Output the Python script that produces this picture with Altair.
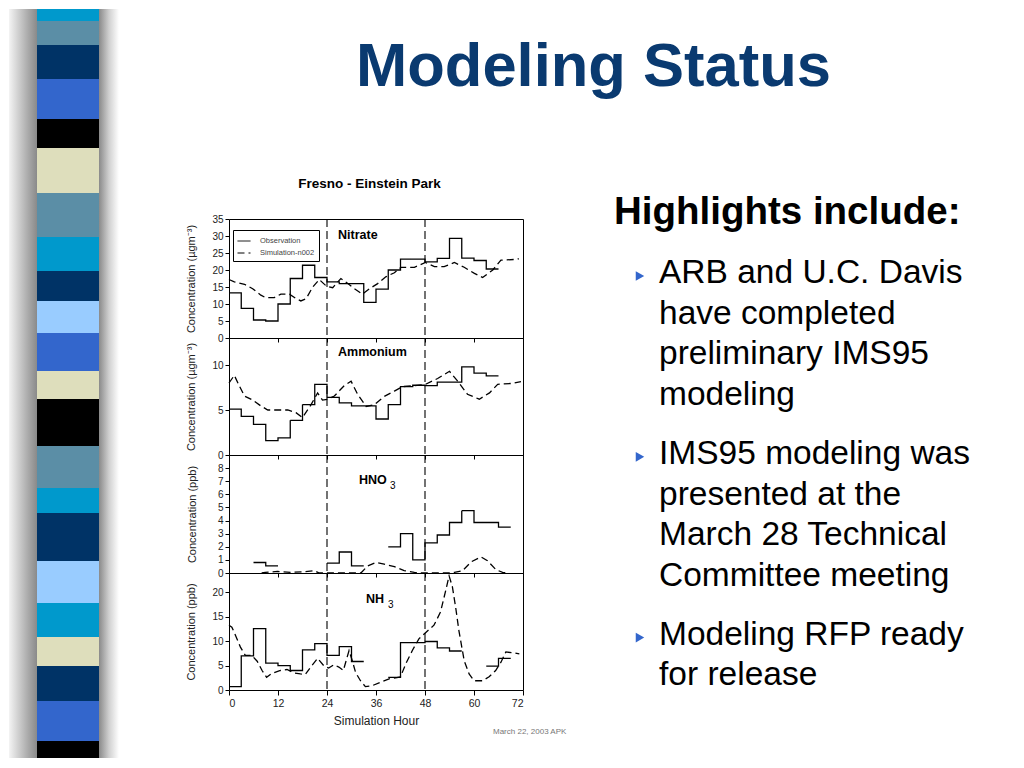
import altair as alt
import pandas as pd

FONT = "Liberation Sans"

# ---------------- data ----------------
# observations: 3-hour block averages starting at 0, 3, 6, ... 69 (None = no data)
block_start = list(range(0, 72, 3))
nit_obs = [13.3, 8.7, 5.3, 5.0, 10.0, 17.5, 21.4, 17.8, 16.5, 16.0, 16.0, 10.5,
           14.4, 20.0, 23.2, 23.2, 22.4, 23.4, 29.3, 23.5, 22.8, 20.3, None, None]
amm_obs = [5.1, 4.3, 3.4, 1.6, 1.9, 3.85, 5.6, 7.85, 6.4, 5.8, 5.45, 5.45,
           4.0, 5.6, 7.6, 7.75, 7.7, 8.1, 8.1, 9.8, 9.1, 8.8, None, None]
hno3_obs = [None, None, 0.8, 0.55, None, None, None, None, 0.75, 1.6, 0.55, None,
            None, 2.0, 3.0, 1.0, 2.3, 2.9, 3.85, 4.75, 3.85, 3.85, 3.5, None]
nh3_obs = [0.7, 7.0, 12.6, 5.5, 5.0, 4.0, 8.25, 9.5, 7.1, 8.9, 5.85, None,
           None, 2.6, 9.7, 9.7, 9.95, 8.66, 8.0, None, None, 4.9, 6.5, None]

# simulation (n002)
nit_sim_h = [0, 1.3, 3.8, 5.8, 7.8, 8.9, 11.1, 12.7, 14.8, 16.4, 17.6, 18.9, 20.5,
             22.1, 23.9, 25.4, 27.4, 29.1, 30.7, 32.7, 34.4, 36.4, 38.4, 40.5, 42.1,
             45.4, 48.1, 50.3, 52.7, 55.2, 57.6, 60.1, 62.1, 64.6, 66.6, 69.9, 71.0]
nit_sim_v = [17.2, 16.5, 15.8, 14.5, 12.6, 11.9, 11.9, 12.9, 12.9, 11.6, 10.9, 11.6, 15.0,
             17.2, 15.2, 14.8, 17.5, 16.0, 14.5, 12.9, 14.5, 16.0, 18.0, 19.2, 20.8,
             20.8, 22.2, 21.0, 21.0, 22.2, 20.8, 19.0, 17.8, 20.0, 22.9, 23.1, 23.3]

amm_sim_h = [0, 1.3, 2.5, 3.8, 5.8, 7.8, 9.5, 14.4, 16.4, 18.0, 20.1, 21.7, 22.9,
             24.2, 25.8, 28.2, 29.9, 31.5, 33.6, 35.6, 38.0, 40.5, 42.5, 45.4, 48.1,
             51.1, 54.0, 56.0, 58.4, 61.3, 63.8, 65.8, 69.1, 71.5]
amm_sim_v = [8.0, 8.85, 7.7, 6.55, 6.1, 5.45, 5.0, 5.0, 4.7, 4.15, 5.6, 6.9, 6.1,
             6.2, 6.55, 7.7, 8.2, 6.75, 5.4, 5.6, 6.5, 7.1, 7.6, 7.7, 7.85,
             8.5, 9.3, 8.2, 6.75, 6.2, 6.9, 7.85, 7.95, 8.15]

hno3_sim_h = [8.0, 8.9, 11.9, 15.2, 18.4, 20.9, 22.1, 32.3, 34.0, 36.0, 38.0, 40.5,
              42.9, 45.4, 46.6, 53.6, 55.2, 57.2, 59.3, 61.7, 63.3, 65.4, 67.0, 68.2]
hno3_sim_v = [0.0, 0.05, 0.12, 0.05, 0.1, 0.18, 0.0, 0.0, 0.55, 0.8, 0.68, 0.48,
              0.18, 0.05, 0.0, 0.0, 0.05, 0.18, 0.85, 1.23, 0.93, 0.25, 0.05, 0.0]

nh3_sim_h = [0, 0.7, 1.6, 2.8, 4.0, 5.6, 6.9, 8.1, 9.2, 10.5, 12.6, 14.2, 15.9, 17.5,
             18.7, 20.0, 21.7, 23.2, 24.4, 25.7, 26.9, 28.0, 29.4, 30.2, 31.0, 32.2,
             33.4, 35.1, 37.1, 39.2, 40.8, 42.0, 43.3, 44.9, 46.5, 48.6, 50.2, 51.8,
             53.1, 53.9, 54.7, 55.5, 56.3, 57.6, 58.8, 60.0, 62.1, 63.7, 65.3, 66.6,
             67.8, 69.8, 71.1]
nh3_sim_v = [13.3, 12.9, 11.2, 8.8, 7.1, 7.1, 5.9, 4.0, 2.6, 3.4, 4.0, 4.2, 3.5, 3.3,
             3.2, 4.7, 6.5, 5.0, 4.5, 5.2, 4.7, 4.0, 8.1, 6.0, 3.6, 1.9,
             0.7, 0.9, 1.6, 2.3, 2.5, 2.7, 5.4, 8.1, 10.5, 12.1, 13.3, 16.0,
             20.5, 23.4, 21.2, 17.0, 12.2, 6.0, 3.3, 1.9, 1.9, 2.7, 4.0, 5.7,
             7.8, 7.6, 7.4]

SERIES = ["Observation", "Simulation-n002"]
day_marks = [24, 48]
x_ticks = [0, 12, 24, 36, 48, 60, 72]

slide_title = "Modeling Status"
chart_title = "Fresno - Einstein Park"
heading = "Highlights include:"
bullets = [
    ["ARB and U.C. Davis", "have completed", "preliminary IMS95", "modeling"],
    ["IMS95 modeling was", "presented at the", "March 28 Technical", "Committee meeting"],
    ["Modeling RFP ready", "for release"],
]
footer_note = "March 22, 2003  APK"

# slide decoration (left striped bar)
stripe_colors = ["#0099cc", "#5b8ea6", "#003366", "#3366cc", "#000000", "#dedebc",
                 "#5b8ea6", "#0099cc", "#003366", "#99ccff", "#3366cc", "#dedebc",
                 "#000000", "#5b8ea6", "#0099cc", "#003366", "#99ccff", "#0099cc",
                 "#dedebc", "#003366", "#3366cc", "#000000"]
stripe_edges = [0, 20, 44, 78, 118, 147, 192, 236, 270, 300, 332, 370, 398, 445,
                487, 512, 560, 602, 636, 665, 700, 740, 768]

# ---------------- layout constants ----------------
PW = 294            # plot width (px)
OX, OY = 228, 8     # page position of the header chart origin
HEADER_H = 210
CLIP_BOTTOM = 757


def obs_frame(values):
    rows, seg, prev = [], 0, None
    for h, v in zip(block_start, values):
        if v is None:
            if prev is not None:
                rows.append({"hour": h, "value": prev, "seg": seg})
                seg += 1
            prev = None
        else:
            rows.append({"hour": h, "value": v, "seg": seg})
            prev = v
    if prev is not None:
        rows.append({"hour": 72, "value": prev, "seg": seg})
    df = pd.DataFrame(rows)
    df["series"] = SERIES[0]
    return df


def txt(s, x, y, size, weight="normal", color="#000000", align="left",
        baseline="alphabetic"):
    return alt.Chart(pd.DataFrame({"t": [s]})).mark_text(
        align=align, baseline=baseline, fontSize=size, fontWeight=weight,
        color=color, font=FONT
    ).encode(x=alt.value(x), y=alt.value(y), text="t:N")


def panel(obs, sim_h, sim_v, ymax, yticks, ytitle, height, title_pad, texts,
          bottom=False, legend=False):
    if bottom:
        xaxis = alt.Axis(values=x_ticks, title="Simulation Hour", labelFontSize=10.5,
                         titleFontSize=12, titleFontWeight="normal", titlePadding=7,
                         tickSize=5, labelPadding=3, domain=False, grid=False)
    else:
        xaxis = alt.Axis(values=x_ticks, labels=False, title=None, tickSize=4,
                         domain=False, grid=False)
    x = alt.X("hour:Q", scale=alt.Scale(domain=[0, 72], nice=False, zero=False), axis=xaxis)
    y = alt.Y("value:Q", scale=alt.Scale(domain=[0, ymax], nice=False),
              axis=alt.Axis(values=yticks, title=ytitle, titleFontSize=11,
                            titleFontWeight="normal", titlePadding=title_pad,
                            labelFontSize=10, tickSize=4, labelPadding=2,
                            grid=False, domain=False))
    if legend:
        leg = alt.Legend(orient="none", legendX=4, legendY=11, title=None,
                         strokeColor="black", fillColor="white", padding=4,
                         labelFontSize=7.5, labelColor="#444444", symbolType="stroke",
                         symbolSize=169, symbolStrokeWidth=1, symbolStrokeColor="black",
                         rowPadding=1, labelOffset=9, labelFont=FONT)
    else:
        leg = None
    dash = alt.StrokeDash("series:N",
                          scale=alt.Scale(domain=SERIES, range=[[1, 0], [7, 4]]),
                          legend=leg)
    obs_l = alt.Chart(obs_frame(obs)).mark_line(
        interpolate="step-after", color="black", strokeWidth=1.3
    ).encode(x=x, y=y, strokeDash=dash, detail="seg:N")
    sim_l = alt.Chart(pd.DataFrame({"hour": sim_h, "value": sim_v, "series": SERIES[1]})
                      ).mark_line(color="black", strokeWidth=1.3).encode(
        x=x, y=y, strokeDash=dash)
    rules = alt.Chart(pd.DataFrame({"hour": day_marks})).mark_rule(
        color="black", strokeWidth=1.1, strokeDash=[8, 4]
    ).encode(x=alt.X("hour:Q"))
    return alt.layer(obs_l, sim_l, rules, *texts).properties(
        width=PW, height=height,
        view=alt.ViewBackground(stroke="black", strokeWidth=1))


# ---------------- header: slide decoration + texts ----------------
srows = []
for c, a, b in zip(stripe_colors, stripe_edges[:-1], stripe_edges[1:]):
    a2 = max(a, OY) - OY
    b2 = min(b, CLIP_BOTTOM) - OY
    if b2 > a2:
        srows.append({"y0": a2, "y1": b2, "c": c})
stripes = alt.Chart(pd.DataFrame(srows)).mark_rect().encode(
    x=alt.value(36 - OX), x2=alt.value(98 - OX),
    y=alt.Y("y0:Q", scale=None), y2="y1:Q",
    color=alt.Color("c:N", scale=None))

one = pd.DataFrame({"a": [0]})
shadow_l = alt.Chart(one).mark_rect(color=alt.LinearGradient(
    gradient="linear", x1=0, x2=1, y1=0, y2=0,
    stops=[alt.GradientStop(color="#f4f4f4", offset=0),
           alt.GradientStop(color="#a8a8a8", offset=0.7),
           alt.GradientStop(color="#8a8a8a", offset=1)])
).encode(x=alt.value(8 - OX), x2=alt.value(36 - OX), y=alt.value(0),
         y2=alt.value(CLIP_BOTTOM - OY))
shadow_r = alt.Chart(one).mark_rect(color=alt.LinearGradient(
    gradient="linear", x1=0, x2=1, y1=0, y2=0,
    stops=[alt.GradientStop(color="#8a8a8a", offset=0),
           alt.GradientStop(color="#d0d0d0", offset=0.5),
           alt.GradientStop(color="#ffffff", offset=1)])
).encode(x=alt.value(98 - OX), x2=alt.value(118 - OX), y=alt.value(0),
         y2=alt.value(CLIP_BOTTOM - OY))

# bullet text positions
lrows, trows = [], []
base = 282.0
for bi, lines in enumerate(bullets):
    trows.append({"px": 639 - OX, "py": base - 7 - OY})
    for li, line in enumerate(lines):
        lrows.append({"t": line, "px": 658 - OX, "py": base - OY})
        if li < len(lines) - 1:
            base += 40.7
    base += 58.7
body = alt.Chart(pd.DataFrame(lrows)).mark_text(
    align="left", baseline="alphabetic", fontSize=33.5, font=FONT, color="#000000"
).encode(x=alt.X("px:Q", scale=None), y=alt.Y("py:Q", scale=None), text="t:N")
tri = alt.Chart(pd.DataFrame(trows)).mark_point(
    shape="triangle-right", filled=True, size=95, color="#3366cc", opacity=1
).encode(x=alt.X("px:Q", scale=None), y=alt.Y("py:Q", scale=None))

header = alt.layer(
    shadow_l, shadow_r, stripes,
    txt(slide_title, 592.5 - OX, 85 - OY, 61.5, "bold", "#0a3a70", "center"),
    txt(heading, 613 - OX, 222.7 - OY, 38.5, "bold"),
    body, tri,
    txt(chart_title, 140.5, 187 - OY, 13.5, "bold", "#000000", "center"),
).properties(width=PW, height=HEADER_H)

p_nit = panel(nit_obs, nit_sim_h, nit_sim_v, 35, list(range(0, 36, 5)),
              "Concentration (µgm⁻³)", 119, 15,
              [txt("Nitrate", 109, 20, 12.5, "bold")], legend=True)
p_amm = panel(amm_obs, amm_sim_h, amm_sim_v, 13, [0, 5, 10],
              "Concentration (µgm⁻³)", 117, 15,
              [txt("Ammonium", 109, 18, 12.5, "bold")])
p_hno = panel(hno3_obs, hno3_sim_h, hno3_sim_v, 9, list(range(0, 9)),
              "Concentration (ppb)", 118, 20,
              [txt("HNO", 130, 29, 12.5, "bold"), txt("3", 161, 34, 10)])
p_nh3 = panel(nh3_obs, nh3_sim_h, nh3_sim_v, 24, [0, 5, 10, 15, 20],
              "Concentration (ppb)", 117, 15,
              [txt("NH", 137, 30, 12.5, "bold"), txt("3", 159, 35, 10),
               txt(footer_note, 264, 159, 8, "normal", "#777777", "left", "middle")],
              bottom=True)

chart = alt.vconcat(header, p_nit, p_amm, p_hno, p_nh3, spacing=0, bounds="flush"
                    ).resolve_scale(x="independent", y="independent",
                                    strokeDash="independent"
                    ).resolve_legend(strokeDash="independent"
                    ).properties(padding=0, background="white"
                    ).configure_view(stroke="transparent"
                    ).configure_axis(labelFont=FONT, titleFont=FONT, labelColor="#222222",
                                     titleColor="#222222", tickColor="#000000")

chart.save("out.html", embed_options={"renderer": "svg", "actions": False})
